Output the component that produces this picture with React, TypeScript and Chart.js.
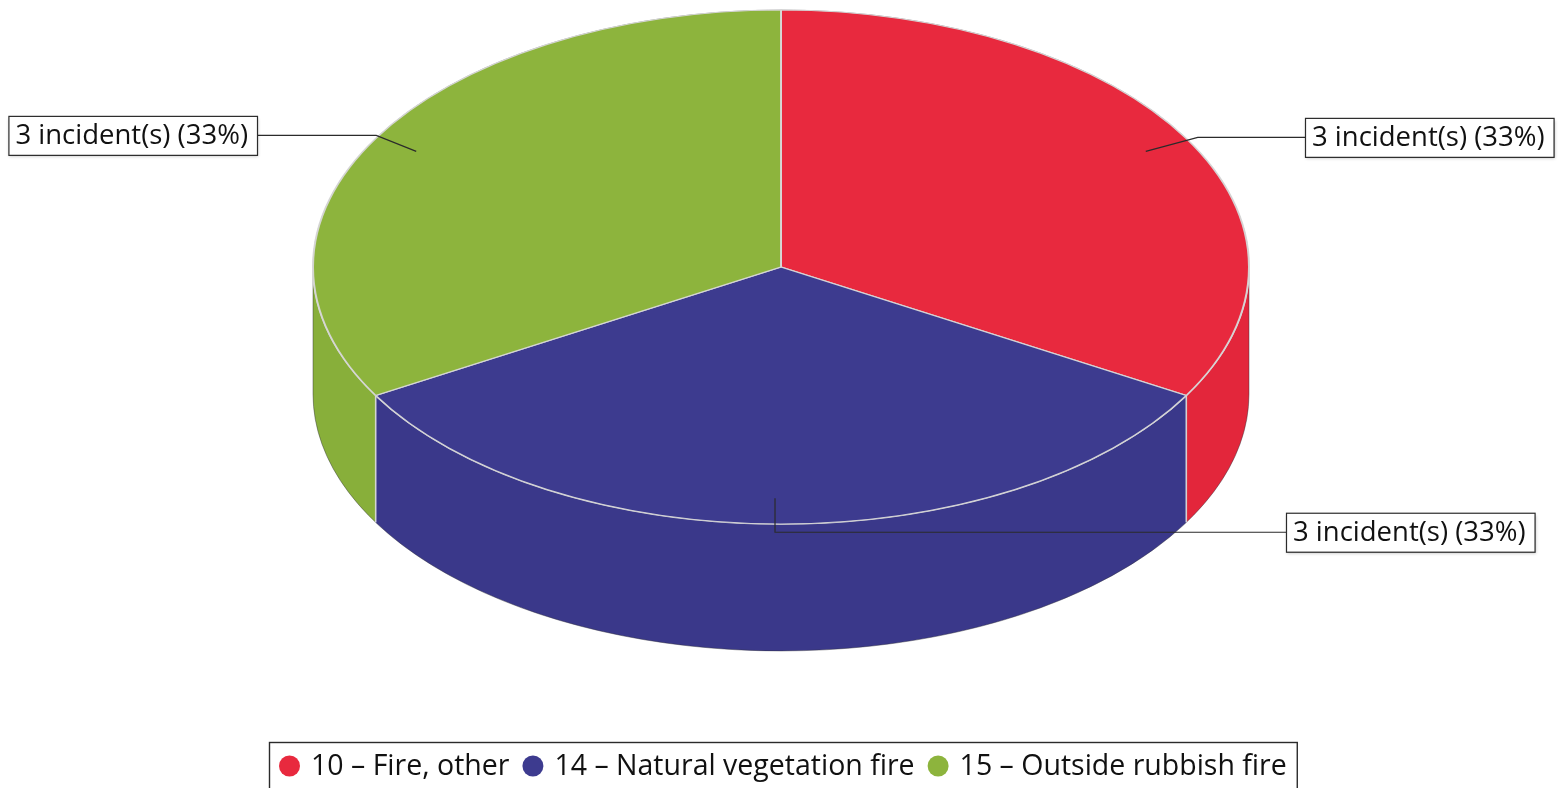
import React, { useEffect, useRef } from 'react';
import { Chart, registerables } from 'chart.js';

Chart.register(...registerables);

// Incident types and counts
const CATEGORIES = ['10 – Fire, other', '14 – Natural vegetation fire', '15 – Outside rubbish fire'];
const INCIDENTS = [3, 3, 3];
const SLICE_COLORS = ['#E8293E', '#3D3B8F', '#8DB43D'];
const SIDE_COLORS = ['#E3263B', '#3A388A', '#88AF3A'];

const W = 1566;
const H = 788;
const FONT = '"Open Sans", "DejaVu Sans", sans-serif';
const LABEL_FONT = `27.5px ${FONT}`;
const LEGEND_FONT = `28.5px ${FONT}`;
const TILT = 0.549; // vertical squash of the pie top
const DEPTH = 127; // thickness of the pie wall
const EDGE = 'rgba(215,215,215,0.95)';
const RADIUS = 468;

const TAU = Math.PI * 2;
const norm = (a: number) => ((a % TAU) + TAU) % TAU;

function labelText(v: number, total: number) {
  return `${v} incident(s) (${Math.round((v / total) * 100)}%)`;
}

function drawBox(ctx: CanvasRenderingContext2D, x: number, yMid: number, text: string) {
  ctx.font = LABEL_FONT;
  const tw = ctx.measureText(text).width;
  const w = tw + 16;
  const h = 39;
  const y = yMid - h / 2;
  ctx.save();
  ctx.shadowColor = 'rgba(0,0,0,0.22)';
  ctx.shadowBlur = 3;
  ctx.shadowOffsetX = 1;
  ctx.shadowOffsetY = 2;
  ctx.fillStyle = '#ffffff';
  ctx.fillRect(x, y, w, h);
  ctx.restore();
  ctx.strokeStyle = '#2b2b2b';
  ctx.lineWidth = 1.2;
  ctx.strokeRect(x + 0.5, y + 0.5, w, h);
  ctx.fillStyle = '#111111';
  ctx.textBaseline = 'middle';
  ctx.textAlign = 'left';
  ctx.fillText(text, x + 7, yMid + 1);
  return w;
}

const pie3d = {
  id: 'pie3d',
  beforeDatasetsDraw(chart: any) {
    const ctx: CanvasRenderingContext2D = chart.ctx;
    const arcs = chart.getDatasetMeta(0).data;
    const { x: cx, y: cy, outerRadius: rx } = arcs[0].getProps(['x', 'y', 'outerRadius'], true);
    const ry = rx * TILT;

    ctx.save();
    // front walls of each slice
    arcs.forEach((arc: any, i: number) => {
      const { startAngle, endAngle } = arc.getProps(['startAngle', 'endAngle'], true);
      for (const off of [-TAU, 0, TAU]) {
        const lo = Math.max(startAngle, off);
        const hi = Math.min(endAngle, off + Math.PI);
        if (hi <= lo) continue;
        const a = lo - off;
        const b = hi - off;
        ctx.beginPath();
        ctx.ellipse(cx, cy, rx, ry, 0, a, b, false);
        ctx.ellipse(cx, cy + DEPTH, rx, ry, 0, b, a, true);
        ctx.closePath();
        ctx.fillStyle = SIDE_COLORS[i];
        ctx.fill();
      }
    });

    // outer silhouette
    ctx.strokeStyle = 'rgba(50,50,60,0.45)';
    ctx.lineWidth = 1;
    ctx.beginPath();
    ctx.ellipse(cx, cy, rx, ry, 0, Math.PI, TAU, false);
    ctx.lineTo(cx + rx, cy + DEPTH);
    ctx.ellipse(cx, cy + DEPTH, rx, ry, 0, 0, Math.PI, false);
    ctx.closePath();
    ctx.stroke();

    // front rim and vertical seams
    ctx.strokeStyle = EDGE;
    ctx.lineWidth = 1.6;
    ctx.beginPath();
    ctx.ellipse(cx, cy, rx, ry, 0, 0, Math.PI, false);
    ctx.stroke();
    arcs.forEach((arc: any) => {
      const t = norm(arc.getProps(['startAngle'], true).startAngle);
      if (t > 0.001 && t < Math.PI - 0.001) {
        const x = cx + rx * Math.cos(t);
        const y = cy + ry * Math.sin(t);
        ctx.beginPath();
        ctx.moveTo(x, y);
        ctx.lineTo(x, y + DEPTH);
        ctx.stroke();
      }
    });
    ctx.restore();

    // top face: slices drawn by the pie controller, squashed into an ellipse
    ctx.save();
    ctx.translate(cx, cy);
    ctx.scale(1, TILT);
    ctx.translate(-cx, -cy);
  },
  afterDatasetsDraw(chart: any) {
    chart.ctx.restore();
  },
  afterDraw(chart: any) {
    const ctx: CanvasRenderingContext2D = chart.ctx;
    const arcs = chart.getDatasetMeta(0).data;
    const data: number[] = chart.data.datasets[0].data;
    const total = data.reduce((s, v) => s + v, 0);
    const { x: cx, y: cy, outerRadius: rx } = arcs[0].getProps(['x', 'y', 'outerRadius'], true);
    const ry = rx * TILT;

    // callout labels
    arcs.forEach((arc: any, i: number) => {
      const { startAngle, endAngle } = arc.getProps(['startAngle', 'endAngle'], true);
      const mid = (startAngle + endAngle) / 2;
      const ax = cx + 0.9 * rx * Math.cos(mid);
      const ay = cy + 0.9 * ry * Math.sin(mid);
      const text = labelText(data[i], total);
      ctx.font = LABEL_FONT;
      const bw = ctx.measureText(text).width + 16;
      ctx.strokeStyle = '#2b2b2b';
      ctx.lineWidth = 1.2;
      ctx.beginPath();
      ctx.moveTo(ax, ay);
      if (Math.cos(mid) > 0.3) {
        const ly = ay - 14;
        const bx = cx + rx + 56;
        ctx.lineTo(ax + 52, ly);
        ctx.lineTo(bx, ly);
        ctx.stroke();
        drawBox(ctx, bx, ly, text);
      } else if (Math.cos(mid) < -0.3) {
        const ly = ay - 16;
        const bxr = cx - rx - 56;
        ctx.lineTo(ax - 40, ly);
        ctx.lineTo(bxr, ly);
        ctx.stroke();
        drawBox(ctx, bxr - bw, ly, text);
      } else {
        const ax2 = ax - 6;
        const ly = ay + 34;
        const bx = cx + rx + 37;
        ctx.beginPath();
        ctx.moveTo(ax2, ay);
        ctx.lineTo(ax2, ly);
        ctx.lineTo(bx, ly);
        ctx.stroke();
        drawBox(ctx, bx, ly, text);
      }
    });

    // legend
    const labels: string[] = chart.data.labels;
    const colors: string[] = chart.data.datasets[0].backgroundColor;
    ctx.font = LEGEND_FONT;
    const pad = 10;
    const dot = 21;
    const gap = 11;
    const between = 13;
    const widths = labels.map((l) => ctx.measureText(l).width);
    const total_w = widths.reduce((s, w) => s + dot + gap + w, 0) + between * (labels.length - 1) + pad * 2;
    const left = Math.round(W / 2 - total_w / 2);
    const top = 742;
    const midY = 766;
    ctx.fillStyle = '#ffffff';
    ctx.fillRect(left, top, total_w, 60);
    ctx.strokeStyle = '#2b2b2b';
    ctx.lineWidth = 1.4;
    ctx.strokeRect(left + 0.5, top + 0.5, total_w, 60);
    let x = left + pad;
    labels.forEach((l, i) => {
      const r = dot / 2;
      ctx.beginPath();
      ctx.arc(x + r, midY, r, 0, TAU);
      ctx.fillStyle = colors[i];
      ctx.fill();
      x += dot + gap;
      ctx.fillStyle = '#111111';
      ctx.textBaseline = 'middle';
      ctx.textAlign = 'left';
      ctx.fillText(l, x, midY + 1);
      x += widths[i] + between;
    });
  },
};

export default function App() {
  const canvasRef = useRef<HTMLCanvasElement | null>(null);

  useEffect(() => {
    const canvas = canvasRef.current;
    if (!canvas) return;
    const chart = new Chart(canvas, {
      type: 'pie',
      data: {
        labels: CATEGORIES,
        datasets: [
          {
            data: INCIDENTS,
            backgroundColor: SLICE_COLORS,
            borderColor: EDGE,
            borderWidth: 2,
            radius: RADIUS,
            clip: false,
          } as any,
        ],
      },
      options: {
        responsive: false,
        animation: false,
        events: [],
        layout: { padding: { top: 0, left: 0, right: 4, bottom: 254 } },
        plugins: {
          legend: { display: false },
          tooltip: { enabled: false },
        },
      },
      plugins: [pie3d],
    });
    return () => chart.destroy();
  }, []);

  return (
    <div style={{ position: 'fixed', left: 0, top: 0, width: W, height: H, background: '#ffffff' }}>
      <canvas ref={canvasRef} width={W} height={H} style={{ display: 'block' }} />
    </div>
  );
}
